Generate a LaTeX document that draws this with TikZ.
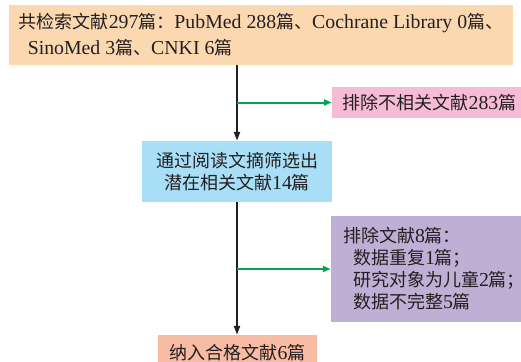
\documentclass[tikz,border=0pt]{standalone}
\usepackage{fontspec}
\setmainfont{Noto Sans CJK SC}
\newfontfamily\lt[Scale=1.1]{Liberation Serif}
\usetikzlibrary{arrows.meta}
\definecolor{cpeach}{HTML}{FCD8B0}
\definecolor{cpink}{HTML}{F6BCD5}
\definecolor{cblue}{HTML}{A9DFF6}
\definecolor{cpurple}{HTML}{C0AFD5}
\definecolor{csalmon}{HTML}{F8BBA3}
\definecolor{cgreen}{HTML}{00A550}
\definecolor{ctext}{HTML}{231F20}
\tikzset{
  box/.style={rectangle, inner sep=0pt, text=ctext, font=\fontsize{18}{22}\selectfont},
  mainarr/.style={draw=ctext, line width=2pt, -{Triangle[length=9pt,width=6pt]}},
  sidearr/.style={draw=cgreen, line width=2pt, -{Triangle[length=8pt,width=6pt]}}
}
\begin{document}
\begin{tikzpicture}[x=1pt,y=-1pt]
\useasboundingbox (0,0) rectangle (521,361);
\clip (0,0) rectangle (521,361);
\node[box, fill=cpeach, minimum width=504pt, minimum height=60pt, align=left, font=\fontsize{18}{26}\selectfont] (top) at (261,35)
  {共检索文献{\lt 297}篇：{\lt PubMed 288}篇、{\lt Cochrane Library 0}篇、\\\hspace*{9pt}{\lt SinoMed 3}篇、{\lt CNKI 6}篇};
\node[box, fill=cpink, minimum width=195pt, minimum height=31pt] (pink) at (429.5,102.5)
  {排除不相关文献{\lt 283}篇};
\node[box, fill=cblue, minimum width=190pt, minimum height=61pt, align=center] (blue) at (237,171.5)
  {通过阅读文摘筛选出\\潜在相关文献{\lt 14}篇};
\node[box, fill=cpurple, minimum width=206pt, minimum height=106pt, align=left] (purple) at (434,269)
  {排除文献{\lt 8}篇：\\\hspace*{10pt}数据重复{\lt 1}篇；\\\hspace*{10pt}研究对象为儿童{\lt 2}篇；\\\hspace*{10pt}数据不完整{\lt 5}篇};
\node[box, fill=csalmon, minimum width=159pt, minimum height=36pt] (bottom) at (237.5,353)
  {\raisebox{1.5pt}{纳入合格文献{\lt 6}篇}};
\draw[mainarr] (top.south -| blue.north) -- (blue.north);
\draw[sidearr] (blue.north |- pink.west) -- (pink.west);
\draw[mainarr] (blue.south) -- (blue.south |- bottom.north);
\draw[sidearr] (blue.south |- purple.west) -- (purple.west);
\end{tikzpicture}
\end{document}
